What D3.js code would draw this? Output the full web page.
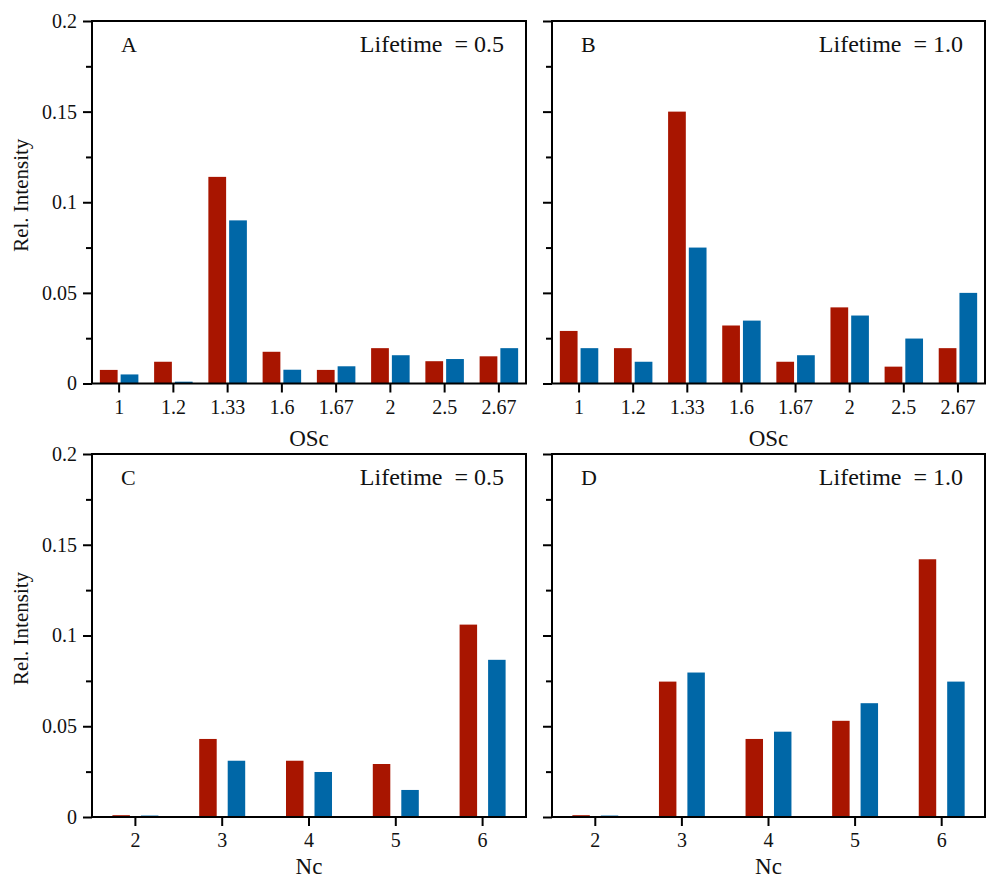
<!DOCTYPE html>
<meta charset="utf-8">
<html>
<head>
<title>Rel. Intensity panels</title>
<script src="https://cdn.jsdelivr.net/npm/d3@7"></script>
<style>
body { margin: 0; background: #fff; }
svg text { font-family: "Liberation Serif", "Times New Roman", "DejaVu Serif", serif; fill: #111; }
.axis path, .axis line { stroke: #000; stroke-width: 2px; }
</style>
</head>
<body>
<div id="chart"></div>
<script>
// categories
var oscCats = ["1", "1.2", "1.33", "1.6", "1.67", "2", "2.5", "2.67"];
var ncCats = ["2", "3", "4", "5", "6"];
// y ticks
var majorTicks = [0, 0.05, 0.1, 0.15, 0.2];
var minorTicks = [0.025, 0.075, 0.125, 0.175];

// values (red = first series, blue = second)
var aRed  = [0.0075, 0.012, 0.114, 0.0175, 0.0075, 0.0195, 0.0123, 0.015];
var aBlue = [0.005, 0.001, 0.09, 0.0076, 0.0095, 0.0156, 0.0135, 0.0195];
var bRed  = [0.029, 0.0195, 0.15, 0.032, 0.012, 0.042, 0.0093, 0.0195];
var bBlue = [0.0195, 0.012, 0.075, 0.0347, 0.0156, 0.0375, 0.0248, 0.05];
var cRed  = [0.001, 0.043, 0.031, 0.0292, 0.106];
var cBlue = [0.0008, 0.031, 0.0248, 0.0149, 0.0866];
var dRed  = [0.001, 0.0746, 0.043, 0.053, 0.142];
var dBlue = [0.0008, 0.0796, 0.047, 0.0627, 0.0746];

var red = "#A81500", blue = "#0067A7";
var serif = '"Liberation Serif", "Times New Roman", "DejaVu Serif", serif';

var svg = d3.select("#chart").append("svg")
    .attr("width", 986).attr("height", 881);

var panels = [
  {letter: "A", life: "Lifetime  = 0.5", cats: oscCats, red: aRed, blue: aBlue, xl: "OSc",
   x0: 92, x1: 526, y0: 21, y1: 383.5, labels: true, pad: 0.29, inner: 0.145, xlOff: 62},
  {letter: "B", life: "Lifetime  = 1.0", cats: oscCats, red: bRed, blue: bBlue, xl: "OSc",
   x0: 552, x1: 985, y0: 21, y1: 383.5, labels: false, pad: 0.29, inner: 0.145, xlOff: 62},
  {letter: "C", life: "Lifetime  = 0.5", cats: ncCats, red: cRed, blue: cBlue, xl: "Nc",
   x0: 92, x1: 526, y0: 454, y1: 817, labels: true, pad: 0.47, inner: 0.386, xlOff: 57},
  {letter: "D", life: "Lifetime  = 1.0", cats: ncCats, red: dRed, blue: dBlue, xl: "Nc",
   x0: 552, x1: 985, y0: 454, y1: 817, labels: false, pad: 0.47, inner: 0.386, xlOff: 57}
];

panels.forEach(function (p) {
  var g = svg.append("g");
  var x = d3.scaleBand().domain(p.cats).range([p.x0, p.x1])
      .paddingInner(p.pad).paddingOuter(p.pad / 2);
  var xs = d3.scaleBand().domain(["red", "blue"]).range([0, x.bandwidth()])
      .paddingInner(p.inner);
  var y = d3.scaleLinear().domain([0, 0.2]).range([p.y1, p.y0]);

  var rows = p.cats.map(function (c, i) {
    return {cat: c, vals: [{k: "red", v: p.red[i]}, {k: "blue", v: p.blue[i]}]};
  });

  g.selectAll("g.grp").data(rows).enter().append("g")
      .attr("transform", function (d) { return "translate(" + x(d.cat) + ",0)"; })
    .selectAll("rect").data(function (d) { return d.vals; }).enter().append("rect")
      .attr("x", function (d) { return xs(d.k); })
      .attr("width", xs.bandwidth())
      .attr("y", function (d) { return y(d.v); })
      .attr("height", function (d) { return y(0) - y(d.v); })
      .style("fill", function (d) { return d.k === "red" ? red : blue; });

  // frame
  g.append("rect")
      .attr("x", p.x0).attr("y", p.y0)
      .attr("width", p.x1 - p.x0).attr("height", p.y1 - p.y0)
      .style("fill", "none").style("stroke", "#000").style("stroke-width", 2);

  // y axis, major + minor ticks
  g.append("g").attr("class", "axis")
      .attr("transform", "translate(" + p.x0 + ",0)")
      .call(d3.axisLeft(y).tickValues(minorTicks).tickSize(6).tickFormat(""))
      .call(function (a) { a.select(".domain").remove(); });
  g.append("g").attr("class", "axis")
      .attr("transform", "translate(" + p.x0 + ",0)")
      .call(d3.axisLeft(y).tickValues(majorTicks).tickSize(9).tickPadding(6)
        .tickFormat(function (d) { return p.labels ? d3.format("~g")(d) : ""; }))
      .call(function (a) { a.select(".domain").remove(); })
      .call(function (a) {
        a.selectAll("text").style("font-family", serif).style("font-size", "20px");
      });

  // x axis
  g.append("g").attr("class", "axis")
      .attr("transform", "translate(0," + p.y1 + ")")
      .call(d3.axisBottom(x).tickSize(9).tickSizeOuter(0).tickPadding(7))
      .call(function (a) { a.select(".domain").remove(); })
      .call(function (a) {
        a.selectAll("text").style("font-family", serif).style("font-size", "20px");
      });

  g.append("text")
      .attr("x", (p.x0 + p.x1) / 2).attr("y", p.y1 + p.xlOff)
      .attr("text-anchor", "middle")
      .style("font-family", serif).style("font-size", "23px")
      .text(p.xl);

  g.append("text")
      .attr("x", p.x0 + 29).attr("y", p.y0 + 31)
      .style("font-family", serif).style("font-size", "22px")
      .text(p.letter);
  g.append("text")
      .attr("x", p.x1 - 22).attr("y", p.y0 + 31)
      .attr("text-anchor", "end")
      .style("font-family", serif).style("font-size", "24px")
      .style("white-space", "pre")
      .text(p.life);

  if (p.labels) {
    g.append("text")
      .attr("transform", "translate(28," + ((p.y0 + p.y1) / 2 - 7) + ") rotate(-90)")
      .attr("text-anchor", "middle")
      .style("font-family", serif).style("font-size", "21px")
      .text("Rel. Intensity");
  }
});
</script>
</body>
</html>
